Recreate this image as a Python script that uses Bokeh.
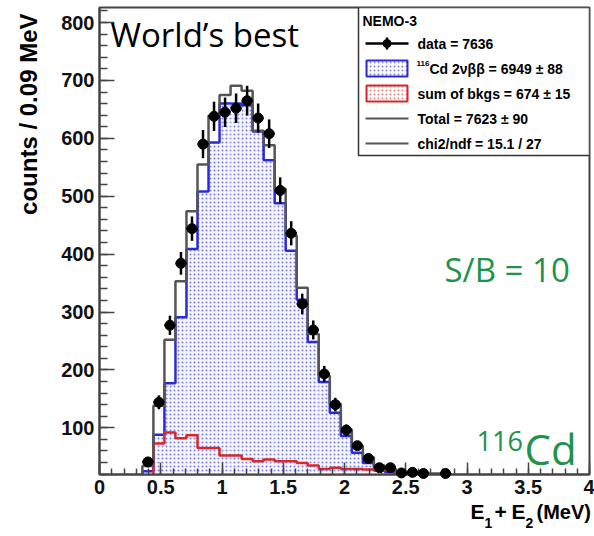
import numpy as np
from bokeh.plotting import figure
from bokeh.models import SingleIntervalTicker, ColumnDataSource
from bokeh.core.properties import value
from bokeh.embed import file_html
from bokeh.resources import INLINE

# ---- histogram data: E1 + E2 energy sum, 0.09 MeV bins ----
bin_centers = [0.395, 0.485, 0.575, 0.665, 0.755, 0.845, 0.935, 1.025, 1.115, 1.205,
               1.295, 1.385, 1.475, 1.565, 1.655, 1.745, 1.835, 1.925, 2.015, 2.105,
               2.195, 2.285, 2.375, 2.465, 2.555, 2.645, 2.735, 2.825]
bin_width = 0.09

data_counts = [41, 144, 277, 384, 444, 590, 638, 645, 652, 665,
               635, 608, 510, 436, 314, 269, 193, 140, 96, 69,
               47, 31, 31, 22, 23, 21, 0, 21]
cd116_2nbb = [25, 88, 177, 291, 409, 508, 593, 660, 660, 657,
              612, 562, 488, 406, 321, 248, 179, 126, 86, 57,
              39, 26, 23, 20, 20, 19, 15, 12]
bkg_sum = [15, 73, 92, 82, 87, 65, 65, 52, 52, 46,
           42, 45, 42, 42, 39, 35, 29, 31, 29, 29,
           28, 27, 27, 15, 14, 12, 10, 8]
total_fit = [34, 138, 252, 353, 474, 555, 639, 675, 691, 682,
             613, 588, 513, 432, 342, 262, 190, 141, 97, 69,
             49, 35, 29, 23, 22, 21, 21, 20]

legend_title = "NEMO-3"
legend_lines = ["data = 7636", "Cd 2\u03bd\u03b2\u03b2 = 6949 \u00b1 88",
                "sum of bkgs = 674 \u00b1 15", "Total = 7623 \u00b1 90",
                "chi2/ndf = 15.1 / 27"]

# ---- plot geometry ----
W, H = 594, 536
FL, FR, FT, FB = 99, 589, 7, 474          # frame edges in pixels
X_RANGE = (0.0, 4.0)
Y_RANGE = (19.3, 826.0)
SX = (FR - FL) / (X_RANGE[1] - X_RANGE[0])
SY = (FB - FT) / (Y_RANGE[1] - Y_RANGE[0])


def xd(px):
    return X_RANGE[0] + (px - FL) / SX


def yd(py):
    return Y_RANGE[0] + (FB - py) / SY


BLUE = "#2b2bd6"
RED = "#d42a2a"
GRAY = "#555555"
FRAME = "#444444"
GREEN = "#21924a"

p = figure(width=W, height=H, x_range=X_RANGE, y_range=Y_RANGE,
           output_backend="svg", toolbar_location=None, title=None,
           min_border_left=FL, min_border_right=W - FR,
           min_border_top=FT, min_border_bottom=H - FB)
p.background_fill_color = "white"
p.border_fill_color = "white"
p.outline_line_color = FRAME
p.outline_line_width = 2
p.xgrid.visible = False
p.ygrid.visible = False

p.xaxis.ticker = SingleIntervalTicker(interval=0.5, num_minor_ticks=5)
p.yaxis.ticker = SingleIntervalTicker(interval=100, num_minor_ticks=5)
p.xaxis.major_label_overrides = {0: "0", 1: "1", 2: "2", 3: "3", 4: "4"}
for ax in (p.xaxis[0], p.yaxis[0]):
    ax.axis_line_color = FRAME
    ax.axis_line_width = 2
    ax.major_tick_line_color = FRAME
    ax.minor_tick_line_color = FRAME
    ax.major_tick_line_width = 1.5
    ax.minor_tick_line_width = 1.5
    ax.major_tick_out = 0
    ax.minor_tick_out = 0
    ax.major_label_text_font = "Liberation Sans"
    ax.major_label_text_font_style = "bold"
    ax.major_label_text_font_size = "20px"
    ax.major_label_text_color = "#111111"
    ax.major_label_standoff = 5
p.xaxis.major_tick_in = 12
p.xaxis.minor_tick_in = 6
p.yaxis.major_tick_in = 15
p.yaxis.minor_tick_in = 8

centers = np.array(bin_centers)
lo = centers - bin_width / 2
hi = centers + bin_width / 2


def step_outline(vals):
    xs, ys = [lo[0]], [0.0]
    for a, b, v in zip(lo, hi, vals):
        xs += [a, b]
        ys += [v, v]
    xs.append(hi[-1])
    ys.append(0.0)
    return xs, ys


# 116Cd 2nbb component: dotted fill
p.quad(left=lo, right=hi, bottom=0, top=cd116_2nbb, fill_color="#f6f6ff",
       line_color=None, hatch_pattern="dot", hatch_color=BLUE,
       hatch_scale=4, hatch_weight=1, hatch_alpha=0.6)
bx, by = step_outline(cd116_2nbb)
p.line(bx, by, line_color=BLUE, line_width=2.5)
rx, ry = step_outline(bkg_sum)
p.line(rx, ry, line_color=RED, line_width=2.5)
tx, ty = step_outline(total_fit)
p.line(tx, ty, line_color=GRAY, line_width=2.5)

# data points with statistical errors
counts = np.array(data_counts, dtype=float)
mask = counts > 0
err = np.sqrt(counts)
src = ColumnDataSource(dict(x=centers[mask], y=counts[mask],
                            ylo=(counts - err)[mask], yhi=(counts + err)[mask],
                            xlo=lo[mask], xhi=hi[mask]))
p.segment(x0="x", y0="ylo", x1="x", y1="yhi", source=src,
          line_color="black", line_width=2.5, level="overlay")
p.segment(x0="xlo", y0="y", x1="xhi", y1="y", source=src,
          line_color="black", line_width=2.5, level="overlay")
p.scatter(x="x", y="y", source=src, size=10, marker="circle",
          fill_color="black", line_color="black", level="overlay")

# ---- legend box ----
p.quad(left=[xd(358)], right=[xd(FR)], top=[yd(FT)], bottom=[yd(155)],
       fill_color="white", line_color="#333333", line_width=1.5)
sym_l, sym_r, sym_c = xd(365), xd(408), xd(386.5)
p.line([sym_l, sym_r], [yd(43), yd(43)], line_color="black", line_width=2.5)
p.segment(x0=[sym_c], y0=[yd(37)], x1=[sym_c], y1=[yd(49)],
          line_color="black", line_width=2.5)
p.scatter(x=[sym_c], y=[yd(43)], size=8, marker="circle",
          fill_color="black", line_color="black")
p.quad(left=[xd(366)], right=[xd(407)], top=[yd(60)], bottom=[yd(76)],
       fill_color="white", line_color=BLUE, line_width=2,
       hatch_pattern="dot", hatch_color=BLUE, hatch_scale=4,
       hatch_weight=1, hatch_alpha=0.6)
p.quad(left=[xd(366)], right=[xd(407)], top=[yd(85)], bottom=[yd(101)],
       fill_color="white", line_color=RED, line_width=2,
       hatch_pattern="dot", hatch_color=RED, hatch_scale=4,
       hatch_weight=1, hatch_alpha=0.6)
for py in (118, 143):
    p.line([sym_l, sym_r], [yd(py), yd(py)], line_color=GRAY, line_width=2)

leg_font = dict(text_font=value("Liberation Sans"), text_font_style="bold",
                text_baseline="middle", text_color="black")
p.text(x=[xd(362)], y=[yd(20)], text=[legend_title], text_font_size="14px", **leg_font)
text_x = [xd(417), xd(429), xd(417), xd(417), xd(417)]
text_y = [yd(py) for py in (43, 68, 93, 118, 143)]
p.text(x=text_x, y=text_y, text=legend_lines, text_font_size="14px", **leg_font)
p.text(x=[xd(416)], y=[yd(63)], text=["116"], text_font_size="8px", **leg_font)


def label(px, py, text, size, font, color="black", align="left", angle=0.0,
          style="normal"):
    # text centred vertically on (px, py); overlay level keeps it outside the frame clip
    p.text(x=[xd(px)], y=[yd(py)], text=[text], angle=angle,
           text_align=align, text_baseline="middle",
           text_font=value(font), text_font_style=style,
           text_font_size=size, text_color=color, level="overlay")


# ---- axis titles ----
label(28, 13, "counts / 0.09 MeV", "24px", "Liberation Sans",
      align="right", angle=np.pi / 2, style="bold")
# E1 + E2 (MeV), with real subscripts
label(470, 511, "E", "21px", "Liberation Sans", style="bold")
label(484, 522, "1", "14px", "Liberation Sans", style="bold")
label(494, 511, "+", "21px", "Liberation Sans", style="bold")
label(511, 511, "E", "21px", "Liberation Sans", style="bold")
label(525, 522, "2", "14px", "Liberation Sans", style="bold")
label(536, 511, "(MeV)", "20px", "Liberation Sans", style="bold")

# ---- annotations ----
label(110, 34, "World\u2019s best", "33px", "Open Sans")
label(444, 269, "S/B = 10", "33px", "Open Sans", color=GREEN)
label(476, 440, "116", "27px", "Open Sans", color=GREEN)
label(524, 448, "Cd", "42px", "Open Sans", color=GREEN)

open("out.html", "w").write(file_html(p, INLINE))
